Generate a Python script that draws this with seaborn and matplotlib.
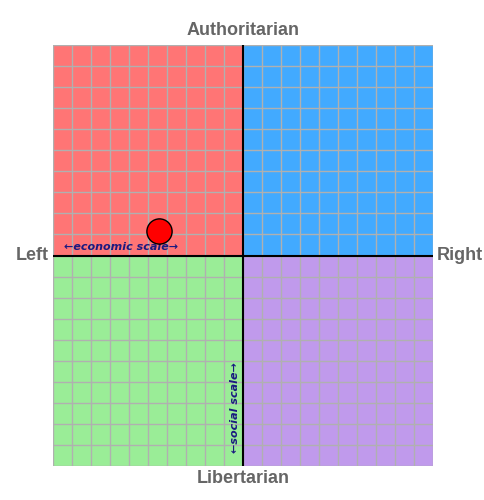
import matplotlib
matplotlib.use("Agg")
import matplotlib.pyplot as plt
import seaborn as sns
import pandas as pd
import numpy as np

quadrant_names = ["Auth-Left", "Auth-Right", "Lib-Left", "Lib-Right"]
quadrant_colors = ["#ff7575", "#42aaff", "#9aed97", "#c09aec"]
quadrant_x = [-10, 0, -10, 0]
quadrant_y = [0, 0, -10, -10]
point_x = [-4.4]
point_y = [1.15]

sns.set_style("white")
plt.rcParams['font.family'] = ['Liberation Sans', 'DejaVu Sans']

fig = plt.figure(figsize=(4.85, 5.0), dpi=100)
ax = fig.add_axes([53/485, 34/500, 380/485, 421/500])
for qx, qy, c in zip(quadrant_x, quadrant_y, quadrant_colors):
    ax.add_patch(plt.Rectangle((qx, qy), 10, 10, color=c, zorder=0))
for v in range(-10, 11):
    ax.axvline(v, color="#b0b0b0", lw=1, zorder=1)
    ax.axhline(v, color="#b0b0b0", lw=1, zorder=1)
ax.axvline(0, color="black", lw=1.5, zorder=2)
ax.axhline(0, color="black", lw=1.5, zorder=2)
df = pd.DataFrame({"x": point_x, "y": point_y})
sns.scatterplot(data=df, x="x", y="y", ax=ax, s=330, color="#ff0000",
                edgecolor="black", linewidth=1, zorder=5)
ax.set_xlim(-10, 10); ax.set_ylim(-10, 10)
ax.set_xticks([]); ax.set_yticks([])
ax.set_xlabel(""); ax.set_ylabel("")
for s in ax.spines.values():
    s.set_visible(False)
gray = "#666666"
ax.text(0, 10.3, "Authoritarian", ha="center", va="bottom", fontsize=13, fontweight="bold", color=gray)
ax.text(0, -10.2, "Libertarian", ha="center", va="top", fontsize=13, fontweight="bold", color=gray)
ax.text(-10.2, 0, "Left", ha="right", va="center", fontsize=13, fontweight="bold", color=gray)
ax.text(10.2, 0, "Right", ha="left", va="center", fontsize=13, fontweight="bold", color=gray)
ax.text(-9.4, 0.15, "←economic scale→", ha="left", va="bottom", fontsize=8,
        fontweight="bold", style="italic", color="#1a1a80", family=['DejaVu Sans'])
ax.text(-0.15, -9.4, "←social scale→", ha="right", va="bottom", rotation=90, fontsize=8,
        fontweight="bold", style="italic", color="#1a1a80", family=['DejaVu Sans'])
fig.savefig("out.png", dpi=100, facecolor="white")
